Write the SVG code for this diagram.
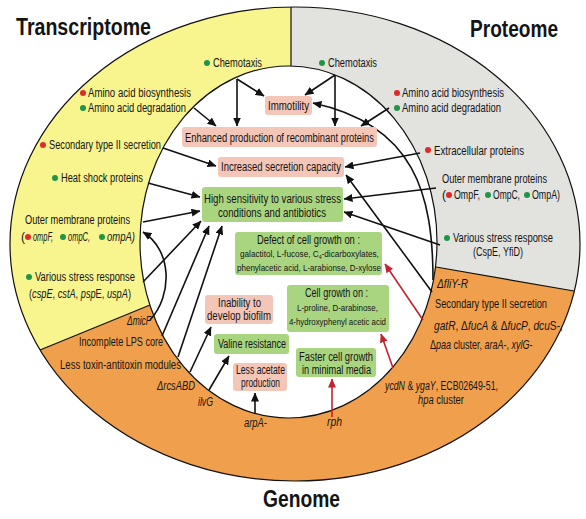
<svg xmlns="http://www.w3.org/2000/svg" width="586" height="519" viewBox="0 0 586 519">
<defs>
<style>
text{font-family:"Liberation Sans Narrow","Liberation Sans",Arial,sans-serif;font-size:12px;fill:#141414}
.ti{font-size:23px;font-weight:bold}
.sm{font-size:9.5px}
.i{font-style:italic}
.pk{fill:#F3C6B8}
.gr{fill:#AAD580}
.rd{fill:#E02A2A}
.gn{fill:#1E9646}
.ln{fill:none;stroke:#111;stroke-width:1.6}
.lr{fill:none;stroke:#C4222E;stroke-width:1.6}
.bd{fill:none;stroke:#111;stroke-width:1.2}
</style>
<clipPath id="outer"><ellipse cx="295" cy="244" rx="285" ry="237"/></clipPath>
<marker id="ah" markerUnits="userSpaceOnUse" markerWidth="9" markerHeight="8" refX="8.5" refY="4" orient="auto"><path d="M0,0 L9,4 L0,8 z" fill="#111"/></marker>
<marker id="ahr" markerUnits="userSpaceOnUse" markerWidth="9" markerHeight="8" refX="8.5" refY="4" orient="auto"><path d="M0,0 L9,4 L0,8 z" fill="#C4222E"/></marker>
</defs>
<rect width="586" height="519" fill="#fff"/>
<g id="background">
<ellipse cx="295" cy="244" rx="285" ry="237" fill="#F0A04C"/>
<g clip-path="url(#outer)">
<polygon points="291,0 0,0 0,366 291,248" fill="#F8F48E"/>
<polygon points="291,0 586,0 586,293 291,242" fill="#E2E2DE"/>
</g>
<ellipse cx="295" cy="244" rx="285" ry="237" class="bd"/>
<ellipse cx="288.5" cy="242" rx="148.5" ry="176" fill="#fff" stroke="#111" stroke-width="1.2"/>
<line x1="291" y1="7" x2="291" y2="66" class="bd"/>
<line x1="150" y1="305" x2="40" y2="350" class="bd"/>
<line x1="436" y1="267" x2="574" y2="291" class="bd"/>
</g>
<g id="titles">
<text class="ti" x="16" y="35" textLength="135" lengthAdjust="spacingAndGlyphs">Transcriptome</text>
<text class="ti" x="470" y="37" textLength="88" lengthAdjust="spacingAndGlyphs">Proteome</text>
<text class="ti" x="263" y="507" textLength="77" lengthAdjust="spacingAndGlyphs">Genome</text>
</g>
<g id="transcriptome">
<g id="t-chemotaxis"><circle cx="207" cy="63" r="3" class="gn"/><text x="213" y="67" textLength="49" lengthAdjust="spacingAndGlyphs">Chemotaxis</text></g>
<g id="t-aa-bio"><circle cx="83" cy="93" r="3" class="rd"/><text x="88" y="97" textLength="103" lengthAdjust="spacingAndGlyphs">Amino acid biosynthesis</text></g>
<g id="t-aa-deg"><circle cx="83" cy="108" r="3" class="gn"/><text x="88" y="112" textLength="98" lengthAdjust="spacingAndGlyphs">Amino acid degradation</text></g>
<g id="t-sec"><circle cx="43" cy="145" r="3" class="rd"/><text x="49" y="149" textLength="112" lengthAdjust="spacingAndGlyphs">Secondary type II secretion</text></g>
<g id="t-heat"><circle cx="55" cy="178" r="3" class="gn"/><text x="61" y="182" textLength="82" lengthAdjust="spacingAndGlyphs">Heat shock proteins</text></g>
<g id="t-omp">
<text x="25" y="224" textLength="105" lengthAdjust="spacingAndGlyphs">Outer membrane proteins</text>
<text x="21" y="241">(</text>
<circle cx="28" cy="237" r="3" class="rd"/><text class="i" x="33" y="241" textLength="20" lengthAdjust="spacingAndGlyphs">ompF,</text>
<circle cx="63" cy="237" r="3" class="gn"/><text class="i" x="68" y="241" textLength="22" lengthAdjust="spacingAndGlyphs">ompC,</text>
<circle cx="102" cy="237" r="3" class="gn"/><text class="i" x="107" y="241" textLength="28" lengthAdjust="spacingAndGlyphs">ompA)</text>
</g>
<g id="t-stress">
<circle cx="29" cy="277" r="3" class="gn"/><text x="35" y="281" textLength="100" lengthAdjust="spacingAndGlyphs">Various stress response</text>
<text transform="translate(29 298) scale(0.769 1)">(<tspan class="i">cspE</tspan>, <tspan class="i">cstA</tspan>, <tspan class="i">psp</tspan>E, <tspan class="i">uspA</tspan>)</text>
</g>
</g>
<g id="proteome">
<g id="p-chemotaxis"><circle cx="322" cy="63" r="3" class="gn"/><text x="328" y="67" textLength="49" lengthAdjust="spacingAndGlyphs">Chemotaxis</text></g>
<g id="p-aa-bio"><circle cx="397" cy="93" r="3" class="rd"/><text x="402" y="97" textLength="102" lengthAdjust="spacingAndGlyphs">Amino acid biosynthesis</text></g>
<g id="p-aa-deg"><circle cx="397" cy="108" r="3" class="gn"/><text x="402" y="112" textLength="99" lengthAdjust="spacingAndGlyphs">Amino acid degradation</text></g>
<g id="p-extra"><circle cx="428" cy="150" r="3" class="rd"/><text x="434" y="155" textLength="90" lengthAdjust="spacingAndGlyphs">Extracellular proteins</text></g>
<g id="p-omp">
<text x="442" y="183" textLength="105" lengthAdjust="spacingAndGlyphs">Outer membrane proteins</text>
<text x="442" y="199">(</text>
<circle cx="449" cy="195" r="3" class="rd"/><text x="454" y="199" textLength="26" lengthAdjust="spacingAndGlyphs">OmpF,</text>
<circle cx="488" cy="195" r="3" class="gn"/><text x="493" y="199" textLength="27" lengthAdjust="spacingAndGlyphs">OmpC,</text>
<circle cx="527" cy="195" r="3" class="gn"/><text x="532" y="199" textLength="28" lengthAdjust="spacingAndGlyphs">OmpA)</text>
</g>
<g id="p-stress">
<circle cx="447" cy="238" r="3" class="gn"/><text x="453" y="242" textLength="100" lengthAdjust="spacingAndGlyphs">Various stress response</text>
<text x="473" y="256" textLength="50" lengthAdjust="spacingAndGlyphs">(CspE, YfiD)</text>
</g>
</g>
<g id="genome">
<g id="g-micf"><text class="i" x="127" y="325" textLength="24" lengthAdjust="spacingAndGlyphs">ΔmicF</text></g>
<g id="g-lps"><text x="79" y="346" textLength="84" lengthAdjust="spacingAndGlyphs">Incomplete LPS core</text></g>
<g id="g-toxin"><text x="60" y="369" textLength="121" lengthAdjust="spacingAndGlyphs">Less toxin-antitoxin modules</text></g>
<g id="g-rcs"><text class="i" x="157" y="390" textLength="38" lengthAdjust="spacingAndGlyphs">ΔrcsABD</text></g>
<g id="g-ilvg"><text class="i" x="198" y="406" textLength="15" lengthAdjust="spacingAndGlyphs">ilvG</text></g>
<g id="g-arpa"><text class="i" x="244" y="427" textLength="23" lengthAdjust="spacingAndGlyphs">arpA-</text></g>
<g id="g-rph"><text class="i" x="327" y="426" textLength="15" lengthAdjust="spacingAndGlyphs">rph</text></g>
<g id="g-ycdn">
<text transform="translate(385 390) scale(0.73 1)"><tspan class="i">ycdN</tspan> &amp; <tspan class="i">ygaY</tspan>, ECB02649-51,</text>
<text transform="translate(418 404) scale(0.784 1)"><tspan class="i">hpa</tspan> cluster</text>
</g>
<g id="g-fliy"><text class="i" x="437" y="288" textLength="31" lengthAdjust="spacingAndGlyphs">ΔfliY-R</text></g>
<g id="g-sec"><text x="435" y="308" textLength="112" lengthAdjust="spacingAndGlyphs">Secondary type II secretion</text></g>
<g id="g-gatr">
<text transform="translate(434 330) scale(0.848 1)"><tspan class="i">gatR</tspan>, Δ<tspan class="i">fucA</tspan> &amp; Δ<tspan class="i">fucP</tspan>, <tspan class="i">dcu</tspan>S-,</text>
<text transform="translate(430 349) scale(0.75 1)">Δ<tspan class="i">paa</tspan> cluster, <tspan class="i">araA</tspan>-, <tspan class="i">xylG</tspan>-</text>
</g>
</g>
<g id="connectors">
<path class="ln" d="M237 79 L237 126" marker-end="url(#ah)"/>
<path class="ln" d="M237 79 L264 96" marker-end="url(#ah)"/>
<path class="ln" d="M335 75 L335 126" marker-end="url(#ah)"/>
<path class="ln" d="M335 75 L305 95" marker-end="url(#ah)"/>
<path class="ln" d="M194 108 L216 126" marker-end="url(#ah)"/>
<path class="ln" d="M389 108 L361 126" marker-end="url(#ah)"/>
<path class="ln" d="M163 148 L216 166" marker-end="url(#ah)"/>
<path class="ln" d="M420 153 L345 167" marker-end="url(#ah)"/>
<path class="ln" d="M148 183 L200 197" marker-end="url(#ah)"/>
<path class="ln" d="M143 222 L200 211" marker-end="url(#ah)"/>
<path class="ln" d="M143 282 L201 221" marker-end="url(#ah)"/>
<path class="ln" d="M162 336 L209 226" marker-end="url(#ah)"/>
<path class="ln" d="M178 357 L222 226" marker-end="url(#ah)"/>
<path class="ln" d="M190 372 L211 327" marker-end="url(#ah)"/>
<path class="ln" d="M209 390 L229 356" marker-end="url(#ah)"/>
<path class="ln" d="M255 413 L255 393" marker-end="url(#ah)"/>
<path class="ln" d="M436 188 L344 199" marker-end="url(#ah)"/>
<path class="ln" d="M440 245 L344 212" marker-end="url(#ah)"/>
<path class="ln" d="M433 280 C433 195 415 125 313 103" marker-end="url(#ah)"/>
<path class="ln" d="M432 292 L346 175" marker-end="url(#ah)"/>
<path class="ln" d="M150 320 C173 295 172 250 143 232" marker-end="url(#ah)"/>
<path class="lr" d="M332 417 L332 379" marker-end="url(#ahr)"/>
<path class="lr" d="M393 368 L381 334" marker-end="url(#ahr)"/>
<path class="lr" d="M423 320 L385 264" marker-end="url(#ahr)"/>
</g>
<g id="immotility"><rect x="265" y="96" width="47" height="19" rx="3" class="pk"/><text x="268" y="110" textLength="41" lengthAdjust="spacingAndGlyphs">Immotility</text></g>
<g id="enhanced"><rect x="182" y="127" width="195" height="20" rx="3" class="pk"/><text x="185" y="142" textLength="189" lengthAdjust="spacingAndGlyphs">Enhanced production of recombinant proteins</text></g>
<g id="secretion"><rect x="218" y="157" width="126" height="20" rx="3" class="pk"/><text x="221" y="171" textLength="120" lengthAdjust="spacingAndGlyphs">Increased secretion capacity</text></g>
<g id="sensitivity"><rect x="202" y="187" width="141" height="35" rx="3" class="gr"/>
<text x="204" y="203" textLength="137" lengthAdjust="spacingAndGlyphs">High sensitivity to various stress</text>
<text x="218" y="217" textLength="108" lengthAdjust="spacingAndGlyphs">conditions and antibiotics</text></g>
<g id="defect"><rect x="235" y="232" width="147" height="43" rx="3" class="gr"/>
<text x="257" y="244" textLength="103" lengthAdjust="spacingAndGlyphs">Defect of cell growth on :</text>
<text class="sm" transform="translate(240 257) scale(0.862 1)">galactitol, L-fucose, C<tspan font-size="6" dy="2">4</tspan><tspan dy="-2">-dicarboxylates,</tspan></text>
<text class="sm" x="237" y="271" textLength="144" lengthAdjust="spacingAndGlyphs">phenylacetic acid, L-arabionse, D-xylose</text></g>
<g id="growth"><rect x="287" y="285" width="102" height="47" rx="3" class="gr"/>
<text x="305" y="297" textLength="63" lengthAdjust="spacingAndGlyphs">Cell growth on :</text>
<text class="sm" x="297" y="311" textLength="81" lengthAdjust="spacingAndGlyphs">L-proline, D-arabinose,</text>
<text class="sm" x="289" y="325" textLength="97" lengthAdjust="spacingAndGlyphs">4-hydroxyphenyl acetic acid</text></g>
<g id="biofilm"><rect x="205" y="295" width="68" height="29" rx="3" class="pk"/>
<text x="218" y="307" textLength="43" lengthAdjust="spacingAndGlyphs">Inability to</text>
<text x="207" y="320" textLength="64" lengthAdjust="spacingAndGlyphs">develop biofilm</text></g>
<g id="valine"><rect x="214" y="334" width="75" height="20" rx="3" class="gr"/><text x="218" y="348" textLength="68" lengthAdjust="spacingAndGlyphs">Valine resistance</text></g>
<g id="acetate"><rect x="233" y="363" width="54" height="28" rx="3" class="pk"/>
<text x="236" y="374" textLength="49" lengthAdjust="spacingAndGlyphs">Less acetate</text>
<text x="241" y="387" textLength="39" lengthAdjust="spacingAndGlyphs">production</text></g>
<g id="faster"><rect x="296" y="348" width="80" height="29" rx="3" class="gr"/>
<text x="299" y="361" textLength="74" lengthAdjust="spacingAndGlyphs">Faster cell growth</text>
<text x="302" y="374" textLength="69" lengthAdjust="spacingAndGlyphs">in minimal media</text></g>
</svg>
